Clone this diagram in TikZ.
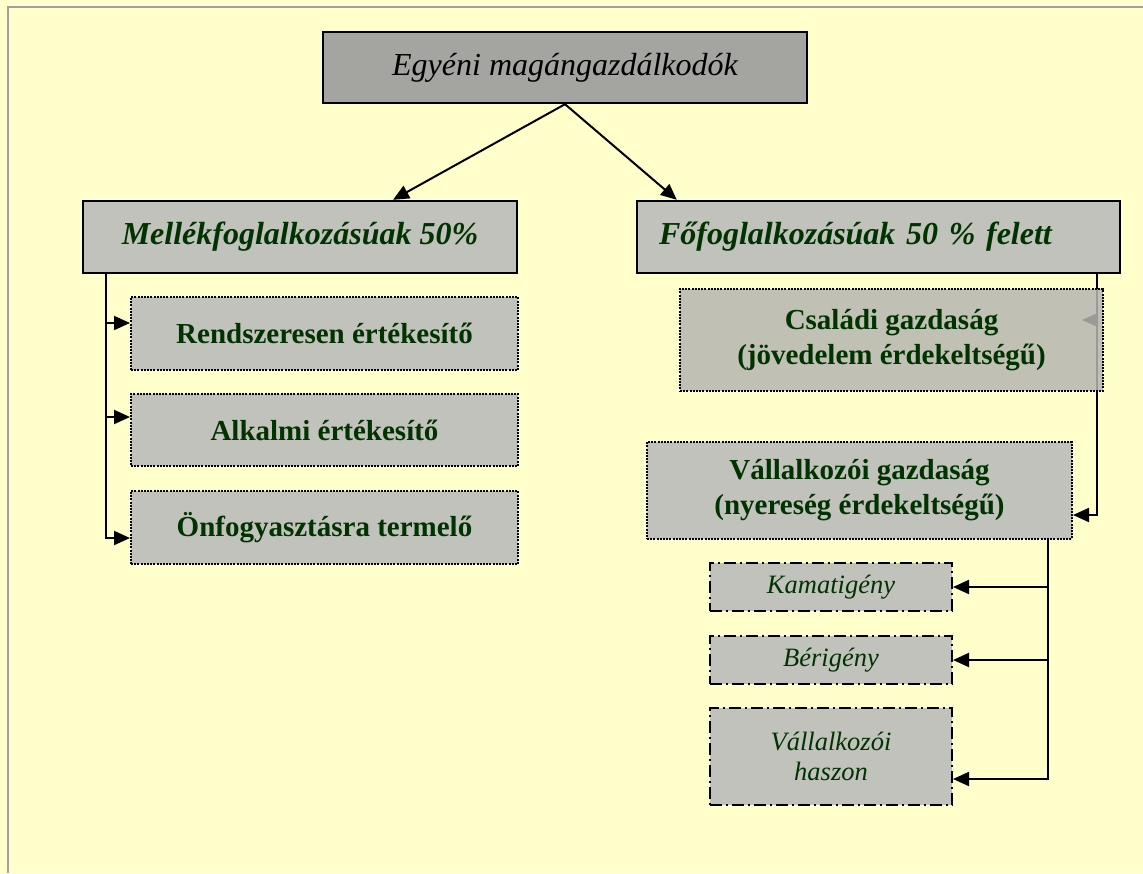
\documentclass[tikz,border=0pt]{standalone}
\usepackage{fontspec}
\setmainfont{Liberation Serif}
\usepackage{xcolor}
\definecolor{farmbg}{HTML}{FFFFCC}
\definecolor{farmframe}{HTML}{A0A0A0}
\definecolor{farmgreen}{HTML}{003300}
\definecolor{farmgray}{HTML}{C2C2BC}
\definecolor{farmdark}{HTML}{A4A4A0}
\usetikzlibrary{
  arrows.meta,
  calc,
}

\begin{document}
\begin{tikzpicture}[
  x=0.5pt, y=-0.5pt,
  topbox/.style={
    draw=black, line width=1.2pt, fill=farmdark, inner sep=0pt,
    font=\fontsize{16}{19}\selectfont\itshape, align=center,
  },
  mainbox/.style={
    draw=black, line width=1.2pt, fill=farmgray, inner sep=0pt,
    minimum height=36pt, font=\fontsize{16}{19}\selectfont\bfseries\itshape,
    text=farmgreen,
  },
  subbox/.style={
    draw=black, line width=1pt, dash pattern=on 1pt off 0.6pt,
    fill=farmgray, inner sep=0pt, font=\fontsize{14.5}{17.5}\selectfont\bfseries,
    text=farmgreen, align=center,
  },
  smallbox/.style={
    draw=black, line width=1pt, dash pattern=on 6pt off 2pt on 1pt off 2pt,
    fill=farmgray, inner sep=0pt, minimum width=121pt,
    font=\fontsize{13.25}{15}\selectfont\itshape, text=farmgreen, align=center,
  },
  connector/.style={
    -{Triangle[length=8pt,width=7pt]}, line width=1pt, black,
  },
]
  % --- page ---
  \fill[farmbg] (0,0) rectangle (1143,873);
  \useasboundingbox (0,0) rectangle (1143,873);
  \draw[farmframe, line width=1pt] (8,873) -- (8,7) -- (1143,7);

  % --- top ---
  \node[topbox, minimum width=242pt, minimum height=35.5pt] (owners) at (565,67.5) {Egyéni magángazdálkodók};

  % --- second row ---
  \node[mainbox, minimum width=217pt] (side) at (300,237) {Mellékfoglalkozásúak 50\%};
  \node[mainbox, text width=219.5pt, inner xsep=11pt, align=left] (main) at (878.5,237) {Főfoglalkozásúak 50 \% felett};
  \draw[connector] (owners.south) -- ($(side.north)+(93,0)$);
  \draw[connector] (owners.south) -- ($(main.north west)+(41,0)$);

  % --- left column ---
  \node[subbox, minimum width=193.5pt, minimum height=36.5pt] (regular)    at (324.5,333.5) {Rendszeresen értékesítő};
  \node[subbox, minimum width=193.5pt, minimum height=36pt]   (occasional) at (324.5,430)   {Alkalmi értékesítő};
  \node[subbox, minimum width=193.5pt, minimum height=36.5pt] (selfuse)    at (324.5,527.5) {Önfogyasztásra termelő};
  \coordinate (lspine) at ($(side.south west)+(24,0)$);
  \foreach \n/\dy in {regular/-10.5, occasional/-13, selfuse/10.5}
    \draw[connector] (lspine) |- ($(\n.west)+(0,\dy)$);

  % --- right column ---
  \node[subbox, minimum width=212.5pt, minimum height=48.5pt] (enterprise) at (859.5,490.5) {Vállalkozói gazdaság\\(nyereség érdekeltségű)};
  \coordinate (rspine) at ($(main.south east)+(-24,0)$);
  \coordinate (familytip) at (1082,320);
  \draw[connector] (rspine) |- ($(enterprise.east)+(0,24.5)$);
  \draw[connector] (rspine |- familytip) -- (familytip);
  \node[subbox, fill=farmgray!94!black, fill opacity=0.85, text opacity=1, minimum width=211.5pt, minimum height=51pt] (family) at (891.5,340) {Családi gazdaság\\(jövedelem érdekeltségű)};

  % --- enterprise parts ---
  \node[smallbox, minimum height=24pt]   (interest) at (831,587)   {Kamatigény};
  \node[smallbox, minimum height=24pt]   (wage)     at (831,660)   {Bérigény};
  \node[smallbox, minimum height=48.5pt] (profit)   at (831,756.5) {Vállalkozói\\haszon};
  \coordinate (bspine) at ($(enterprise.south)+(188.5,0)$);
  \foreach \n/\dy in {interest/0, wage/0, profit/22.5}
    \draw[connector] (bspine) |- ($(\n.east)+(0,\dy)$);
\end{tikzpicture}
\end{document}
